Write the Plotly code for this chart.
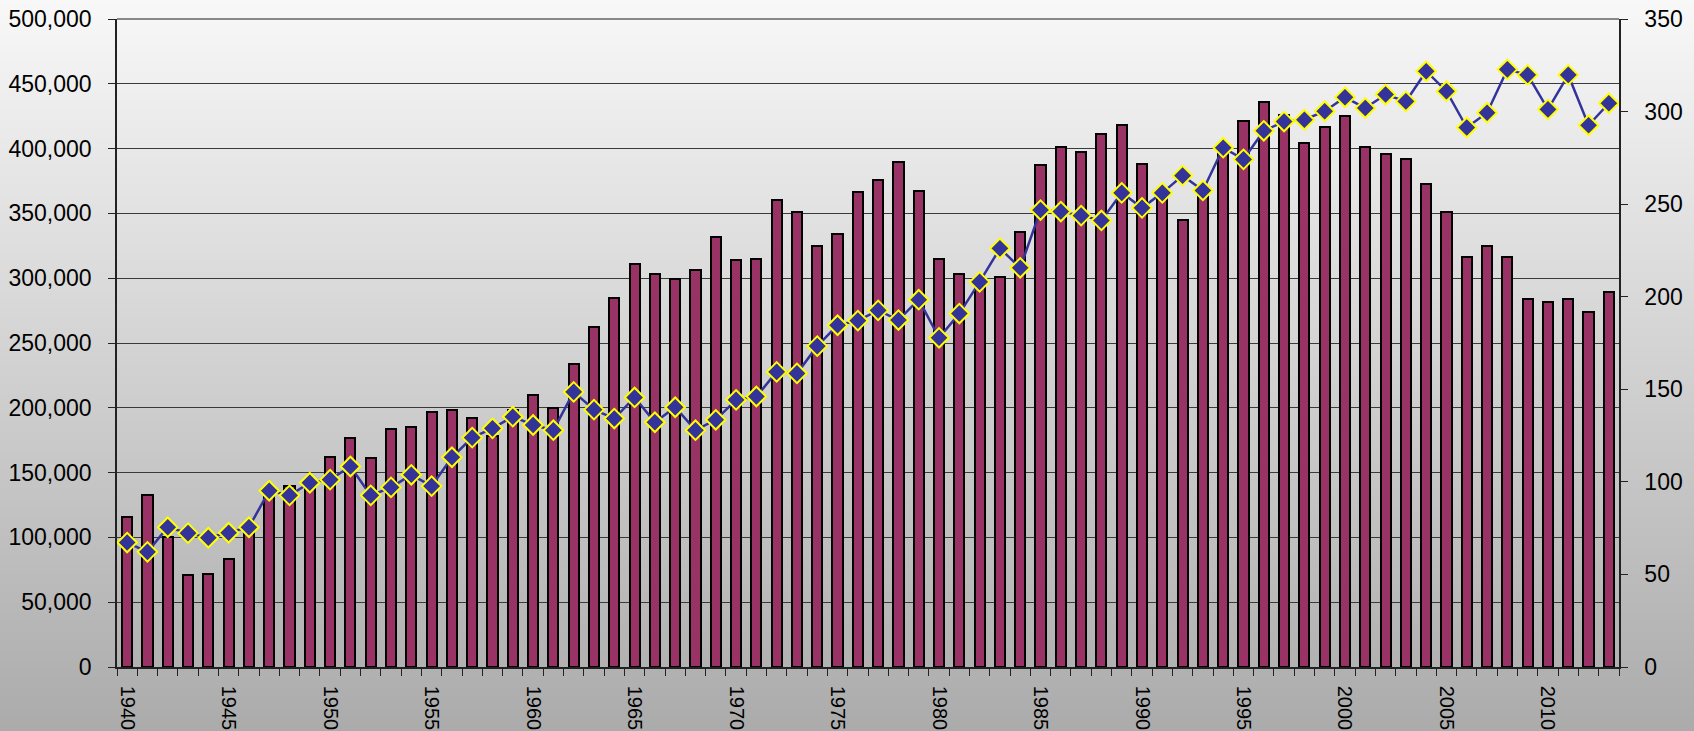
import base64, struct, zlib
import plotly.graph_objects as go

# ---------------- data ----------------
years = list(range(1940, 2014))
bar_values = [
    116000, 133000, 100000, 71000, 72000, 83000, 107000, 135000, 140000, 140000,
    162000, 177000, 161000, 184000, 185000, 197000, 198000, 192000, 178000, 198000,
    210000, 200000, 233500, 262000, 285000, 311000, 303000, 299500, 306000, 332000,
    314000, 315000, 360000, 351000, 325000, 334000, 366500, 375500, 389500, 367000,
    315000, 303000, 297000, 301000, 336000, 387000, 401000, 397500, 411000, 418000,
    388000, 363000, 345000, 366000, 400000, 421500, 436000, 426000, 404000, 416500,
    425000, 401000, 396000, 392000, 373000, 351000, 316000, 324500, 316500, 284000,
    282000, 284000, 274000, 289000,
]
line_values = [
    67.2, 62.2, 75.5, 72.3, 69.8, 72.5, 75.5, 95.2, 92.7, 99.5,
    101.2, 108.3, 92.7, 97.0, 103.8, 97.7, 113.3, 123.9, 128.9, 135.2,
    130.7, 127.9, 148.6, 139.0, 134.2, 145.6, 132.2, 140.3, 127.9, 133.5,
    144.3, 146.1, 159.4, 158.6, 173.3, 184.6, 187.1, 192.6, 187.4, 198.4,
    177.8, 190.9, 208.0, 226.1, 215.6, 246.8, 246.0, 243.8, 241.2, 256.1,
    248.0, 256.1, 265.4, 257.4, 280.5, 274.2, 289.6, 294.6, 295.6, 300.2,
    307.7, 301.9, 309.2, 305.5, 321.8, 311.0, 291.4, 299.4, 322.8, 319.8,
    301.2, 319.8, 292.6, 304.5,
]
label_years = list(range(1940, 2014, 5))
left_ticks = list(range(0, 500001, 50000))
right_ticks = list(range(0, 351, 50))

# ---------------- layout geometry ----------------
W, H = 1694, 731
ML, MR, MT, MB = 117, 75, 19, 64

# ---------------- gradient background (generated PNG) ----------------
def gradient_png(h, top=248, bottom=171):
    rows = b""
    for i in range(h):
        v = round(top + (bottom - top) * i / (h - 1))
        rows += b"\x00" + bytes([v, v, v]) * 2
    def chunk(t, d):
        c = t + d
        return struct.pack(">I", len(d)) + c + struct.pack(">I", zlib.crc32(c) & 0xffffffff)
    png = b"\x89PNG\r\n\x1a\n"
    png += chunk(b"IHDR", struct.pack(">IIBBBBB", 2, h, 8, 2, 0, 0, 0))
    png += chunk(b"IDAT", zlib.compress(rows, 9))
    png += chunk(b"IEND", b"")
    return "data:image/png;base64," + base64.b64encode(png).decode()

pw = W - ML - MR
ph = H - MT - MB

fig = go.Figure()

fig.add_trace(go.Bar(
    x=years, y=bar_values, width=0.5,
    marker=dict(color="#993366", line=dict(color="black", width=2)),
    yaxis="y", showlegend=False,
))

fig.add_trace(go.Scatter(
    x=years, y=line_values, mode="lines+markers", yaxis="y2",
    line=dict(color="#333399", width=2.5),
    marker=dict(symbol="diamond", size=15, color="#333399",
                line=dict(color="#ffff00", width=2)),
    showlegend=False,
))

font_family = "Liberation Sans, Arial, sans-serif"

fig.update_layout(
    width=W, height=H,
    margin=dict(l=ML, r=MR, t=MT, b=MB, pad=0, autoexpand=False),
    paper_bgcolor="#d0d0d0",
    plot_bgcolor="rgba(0,0,0,0)",
    font=dict(family=font_family, color="black"),
    bargap=0,
    images=[dict(
        source=gradient_png(H), xref="paper", yref="paper",
        x=-ML / pw, y=1 + MT / ph, sizex=W / pw, sizey=H / ph,
        sizing="stretch", xanchor="left", yanchor="top", layer="below",
    )],
    xaxis=dict(
        range=[1939.5, 2013.5], automargin=False,
        tickvals=label_years, ticktext=[str(y) for y in label_years],
        tickangle=90, tickfont=dict(size=20),
        ticks="outside", ticklen=7, tickcolor="rgba(0,0,0,0)",
        ticklabelstandoff=6,
        minor=dict(tickvals=[1939.5 + k for k in range(75)], ticks="outside",
                   ticklen=7, tickcolor="#222", tickwidth=1, showgrid=False),
        showline=True, linecolor="#222", linewidth=1.5,
        showgrid=False, zeroline=False, fixedrange=True,
    ),
    yaxis=dict(
        range=[0, 500000], tickvals=left_ticks, tickformat=",", automargin=False,
        tickfont=dict(size=23),
        ticks="outside", ticklen=7, tickcolor="#222",
        ticklabelstandoff=12,
        showline=True, linecolor="#222", linewidth=1.5,
        showgrid=True, gridcolor="#3a3a3a", gridwidth=1,
        zeroline=False,
    ),
    yaxis2=dict(
        range=[0, 350], tickvals=right_ticks, overlaying="y", side="right",
        automargin=False,
        tickfont=dict(size=23),
        ticks="outside", ticklen=7, tickcolor="#222",
        ticklabelstandoff=12,
        showline=True, linecolor="#222", linewidth=1.5,
        showgrid=False, zeroline=False,
    ),
    shapes=[dict(type="line", xref="paper", yref="paper", x0=0, x1=1, y0=1, y1=1,
                 line=dict(color="#888888", width=2), layer="above")],
)

fig.write_html(
    "out.html",
    config={"displayModeBar": False},
    post_script="document.body.style.margin='0';document.body.style.padding='0';"
                "document.body.style.overflow='hidden';",
)
